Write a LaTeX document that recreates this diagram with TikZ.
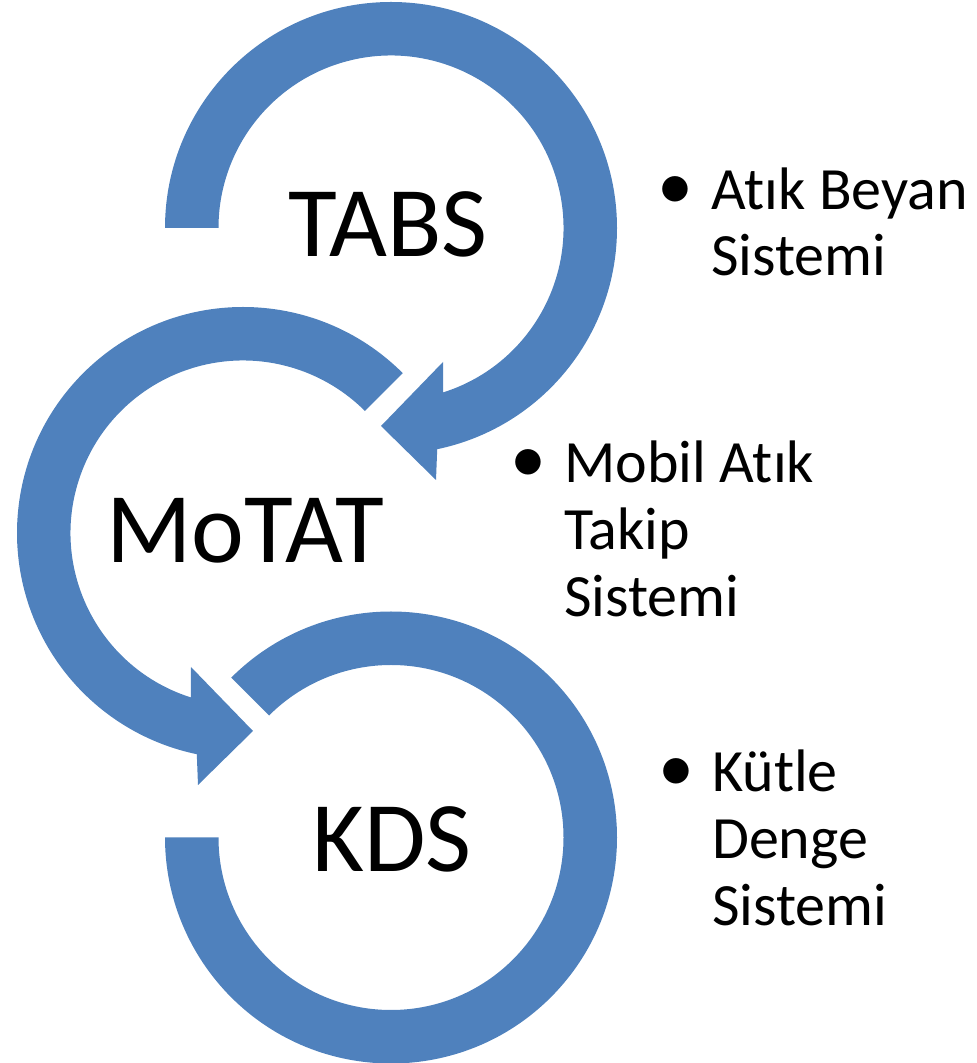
\documentclass[tikz,border=0pt]{standalone}
\usepackage{fontspec}
\setmainfont[Ligatures=NoCommon]{Carlito}
\usetikzlibrary{calc}
\definecolor{ringblue}{RGB}{79,129,189}
\begin{document}
\begin{tikzpicture}[x=1pt,y=1pt,
  ring/.style={fill=ringblue, draw=none},
  biglabel/.style={font=\fontsize{100}{120}\selectfont, inner sep=0pt, anchor=base},
  itemline/.style={font=\fontsize{60}{66}\selectfont, inner sep=0pt, anchor=base west}]
\useasboundingbox (0,0) rectangle (977,1063);
\coordinate (c1) at (391,835);
\coordinate (c2) at (243,530);
\coordinate (c3) at (391,225.5);
% ring 1 (TABS), clockwise arrow
\fill[ring] ($(c1)+(180:226)$) arc[start angle=180,end angle=-78.2,radius=226]
  -- ($(c1)+(45,-252)$) -- ($(c1)+(-10,-198)$) -- ($(c1)+(52,-134)$)
  -- ($(c1)+(-72.4:172.5)$) arc[start angle=-72.4,end angle=180,radius=172.5] -- cycle;
% ring 2 (MoTAT), counterclockwise arrow
\fill[ring] ($(c2)+(45:226)$) arc[start angle=45,end angle=258.2,radius=226]
  -- ($(c2)+(-45,-252)$) -- ($(c2)+(10,-198)$) -- ($(c2)+(-52,-134)$)
  -- ($(c2)+(252.4:172.5)$) arc[start angle=252.4,end angle=45,radius=172.5] -- cycle;
% ring 3 (KDS), no arrowhead
\fill[ring] ($(c3)+(135:226)$) arc[start angle=135,end angle=-180,radius=226]
  -- ($(c3)+(180:172.5)$) arc[start angle=-180,end angle=135,radius=172.5] -- cycle;
% labels
\node[biglabel] (tabs) at (388,806) {TABS};
\node[biglabel] (motat) at (245,500) {MoTAT};
\node[biglabel] (kds) at (392,191) {KDS};
% bullet texts
\node[itemline] (i1a) at (711,853) {\llap{\scalebox{1.2}{•}\hspace{18pt}}Atık Beyan};
\node[itemline] (i1b) at (711,787) {Sistemi};
\node[itemline] (i2a) at (564,580) {\llap{\scalebox{1.2}{•}\hspace{18pt}}Mobil Atık};
\node[itemline] (i2b) at (564,513) {Takip};
\node[itemline] (i2c) at (564,446) {Sistemi};
\node[itemline] (i3a) at (712,271) {\llap{\scalebox{1.2}{•}\hspace{18pt}}Kütle};
\node[itemline] (i3b) at (712,204) {Denge};
\node[itemline] (i3c) at (712,137) {Sistemi};
\end{tikzpicture}
\end{document}
